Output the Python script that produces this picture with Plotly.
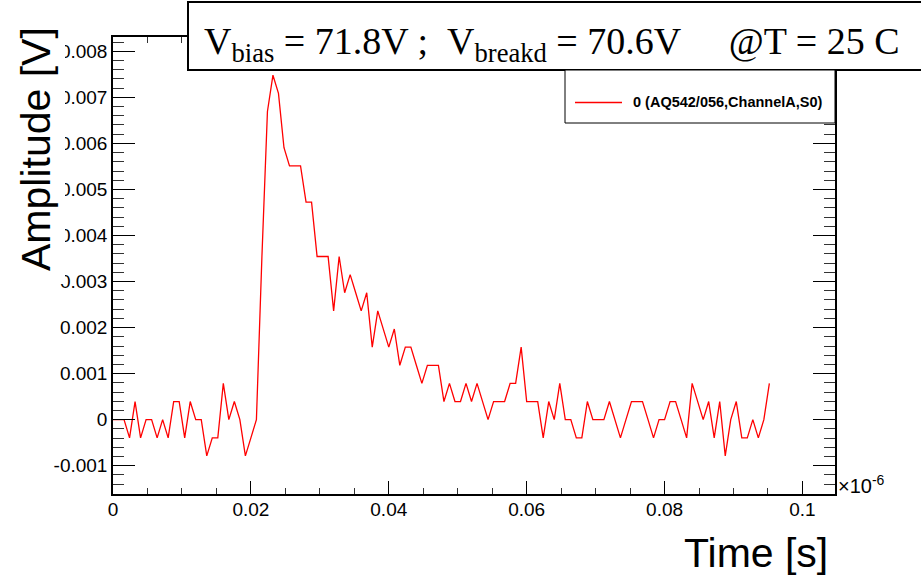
import plotly.graph_objects as go

# ---------------- data ----------------
time_start_us = 0.0          # first sample [x 1e-6 s]
time_step_us = 0.0008        # sampling interval [x 1e-6 s]

amplitude_v = [
    0.0, 0.0, 0.0, -0.000394, 0.000394, -0.000394, 0.0, 0.0, -0.000394, 0.0,
    -0.000394, 0.000394, 0.000394, -0.000394, 0.000394, 0.0, 0.0, -0.000787, -0.000394, -0.000394,
    0.000787, 0.0, 0.000394, 0.0, -0.000787, -0.000394, 0.0, 0.003543, 0.006693, 0.00748,
    0.007087, 0.005906, 0.005512, 0.005512, 0.005512, 0.004724, 0.004724, 0.003543, 0.003543, 0.003543,
    0.002362, 0.003543, 0.002756, 0.00315, 0.002756, 0.002362, 0.002756, 0.001575, 0.002362, 0.001969,
    0.001575, 0.001969, 0.001181, 0.001575, 0.001575, 0.001181, 0.000787, 0.001181, 0.001181, 0.001181,
    0.000394, 0.000787, 0.000394, 0.000394, 0.000787, 0.000394, 0.000787, 0.000394, 0.0, 0.000394,
    0.000394, 0.000394, 0.000787, 0.000787, 0.001575, 0.000394, 0.000394, 0.000394, -0.000394, 0.000394,
    0.0, 0.000787, 0.0, 0.0, -0.000394, -0.000394, 0.000394, 0.0, 0.0, 0.0,
    0.000394, 0.0, -0.000394, 0.0, 0.000394, 0.000394, 0.000394, 0.0, -0.000394, 0.0,
    0.0, 0.000394, 0.000394, 0.0, -0.000394, 0.000787, 0.000394, 0.0, 0.000394, -0.000394,
    0.000394, -0.000787, 0.0, 0.000394, -0.000394, -0.000394, 0.0, -0.000394, 0.0, 0.000787,
]

x_range = [0.0, 0.10472]
y_range = [-0.001614, 0.00831]

x_tick_vals = [0.0, 0.02, 0.04, 0.06, 0.08, 0.1]
x_tick_text = ["0", "0.02", "0.04", "0.06", "0.08", "0.1"]
y_tick_vals = [-0.001, 0.0, 0.001, 0.002, 0.003, 0.004, 0.005, 0.006, 0.007, 0.008]
y_tick_text = ["-0.001", "0", "0.001", "0.002", "0.003", "0.004", "0.005", "0.006", "0.007", "0.008"]

series_name = "0 (AQ542/056,ChannelA,S0)"
x_title = "Time [s]"
y_title = "Amplitude [V]"
header_text = ("V<sub>bias</sub> = 71.8V ;\u00a0\u00a0V<sub>breakd</sub> = 70.6V"
               "\u00a0\u00a0\u00a0\u00a0\u00a0@T = 25 C")
exponent_text = "\u00d710<sup>-6</sup>"

# ---------------- layout geometry (pixels) ----------------
W, H = 921, 577
L, R, T, B = 113, 835, 37, 494
PW, PH = R - L, B - T


def px(xp):
    return (xp - L) / PW


def py(yp):
    return (B - yp) / PH


SANS = "Liberation Sans, Arial, Helvetica, sans-serif"
SERIF = "Liberation Serif, Times New Roman, serif"

fig = go.Figure()
fig.add_trace(go.Scatter(
    x0=time_start_us, dx=time_step_us, y=amplitude_v,
    mode="lines", line=dict(color="#ff0000", width=1.3),
    name=series_name, showlegend=False, hoverinfo="skip",
))

axis_common = dict(
    showgrid=False, zeroline=False, showline=True, linecolor="black",
    linewidth=1.5, mirror="allticks", ticks="inside", tickcolor="black",
    tickwidth=1, tickfont=dict(family=SANS, size=19, color="black"),
    tickmode="array",
)

fig.update_xaxes(
    range=x_range, tickvals=x_tick_vals, ticktext=x_tick_text, ticklen=13,
    ticklabelstandoff=-3,
    minor=dict(tick0=0, dtick=0.005, ticklen=6.5, ticks="inside",
               tickcolor="#333", tickwidth=1),
    **axis_common,
)
fig.update_yaxes(
    range=y_range, tickvals=y_tick_vals, ticktext=y_tick_text, ticklen=22,
    minor=dict(tick0=0, dtick=0.0002, ticklen=11, ticks="inside",
               tickcolor="#333", tickwidth=1),
    **axis_common,
)

shapes = [
    # white patch behind the y title (hides part of the tick labels, as in the reference)
    dict(type="rect", xref="paper", yref="paper", x0=px(0), x1=px(65),
         y0=py(284), y1=py(18), fillcolor="white", line=dict(width=0),
         layer="above"),
    # header box
    dict(type="rect", xref="paper", yref="paper", x0=px(188), x1=px(940),
         y0=py(70), y1=py(2), fillcolor="white",
         line=dict(color="black", width=2), layer="above"),
    # legend box
    dict(type="rect", xref="paper", yref="paper", x0=px(565), x1=px(835),
         y0=py(123), y1=py(70), fillcolor="white",
         line=dict(color="black", width=1), layer="above"),
    # legend line sample
    dict(type="line", xref="paper", yref="paper", x0=px(575), x1=px(622),
         y0=py(102.5), y1=py(102.5), line=dict(color="#ff0000", width=1.3),
         layer="above"),
]

annotations = [
    dict(text=header_text, xref="paper", yref="paper", x=px(202), y=py(44),
         xanchor="left", yanchor="middle", showarrow=False,
         font=dict(family=SERIF, size=38, color="black")),
    dict(text="<b>" + series_name + "</b>", xref="paper", yref="paper",
         x=px(631), y=py(102.5), xanchor="left", yanchor="middle",
         showarrow=False, font=dict(family=SANS, size=14.5, color="black")),
    dict(text=x_title, xref="paper", yref="paper", x=px(830), y=py(553),
         xanchor="right", yanchor="middle", showarrow=False,
         font=dict(family=SANS, size=41, color="black")),
    dict(text=y_title, xref="paper", yref="paper", x=px(36), y=py(149),
         xanchor="center", yanchor="middle", textangle=-90, showarrow=False,
         font=dict(family=SANS, size=41, color="black")),
    dict(text=exponent_text, xref="paper", yref="paper", x=px(836), y=py(499),
         xanchor="left", yanchor="bottom", showarrow=False,
         font=dict(family=SANS, size=20, color="black")),
]

fig.update_layout(
    width=W, height=H,
    margin=dict(l=L, r=W - R, t=T, b=H - B, pad=0),
    plot_bgcolor="white", paper_bgcolor="white",
    showlegend=False, shapes=shapes, annotations=annotations,
)

fig.write_html(
    "out.html",
    config={"displayModeBar": False},
    post_script="document.body.style.margin='0';document.body.style.overflow='hidden';",
)
